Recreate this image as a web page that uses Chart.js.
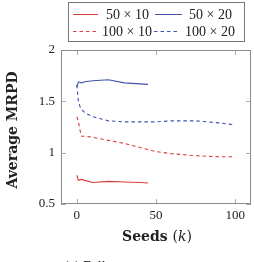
<!DOCTYPE html>
<html><head><meta charset="utf-8">
<script src="https://cdn.jsdelivr.net/npm/chart.js@4"></script>
<style>html,body{margin:0;padding:0;background:#fff;overflow:hidden}#c{display:block}</style>
</head><body>
<canvas id="c" width="254" height="262"></canvas>
<script>
const seeds50 = [0, 1, 3, 5, 10, 20, 30, 40, 45];
const mrpd50x10 = [0.78, 0.73, 0.74, 0.73, 0.71, 0.72, 0.715, 0.71, 0.705];
const mrpd50x20 = [1.64, 1.69, 1.68, 1.69, 1.70, 1.71, 1.68, 1.67, 1.665];
const seeds100 = [0, 1, 2, 3, 5, 10, 20, 30, 40, 50, 60, 75, 90, 100];
const mrpd100x10 = [1.35, 1.30, 1.22, 1.16, 1.16, 1.15, 1.12, 1.09, 1.05, 1.01, 0.99, 0.97, 0.96, 0.96];
const mrpd100x20 = [1.66, 1.50, 1.45, 1.42, 1.39, 1.35, 1.31, 1.30, 1.30, 1.30, 1.31, 1.31, 1.29, 1.27];
const xTicks = [0, 50, 100];
const yTicks = [0.5, 1, 1.5, 2];
const seriesLabels = ['50 × 10', '50 × 20', '100 × 10', '100 × 20'];
const xTitle = 'Seeds';
const xTitleVar = 'k';
const yTitle = 'Average MRPD';
const caption = '(a) Full';

const RED = 'rgb(218,62,58)';
const BLUE = 'rgb(62,84,170)';
const GRAY = '#8a8a8a';

const pts = (xs, ys) => xs.map((x, i) => ({x, y: ys[i]}));

const decor = {
  id: 'decor',
  afterDraw(chart) {
    const ctx = chart.ctx, a = chart.chartArea;
    const xs = chart.scales.x, ys = chart.scales.y;
    ctx.save();
    ctx.strokeStyle = '#aaa'; ctx.lineWidth = 1;
    ctx.beginPath();
    xTicks.forEach(v => {
      const p = Math.round(xs.getPixelForValue(v)) + 0.5;
      ctx.moveTo(p, a.bottom); ctx.lineTo(p, a.bottom - 5);
      ctx.moveTo(p, a.top); ctx.lineTo(p, a.top + 5);
    });
    yTicks.forEach(v => {
      const p = Math.round(ys.getPixelForValue(v)) + 0.5;
      ctx.moveTo(a.left, p); ctx.lineTo(a.left + 5, p);
      ctx.moveTo(a.right, p); ctx.lineTo(a.right - 5, p);
    });
    ctx.stroke();
    ctx.strokeStyle = GRAY; ctx.lineWidth = 1;
    ctx.strokeRect(Math.round(a.left) + 0.5, Math.round(a.top) + 0.5,
      Math.round(a.right - a.left) - 1, Math.round(a.bottom - a.top) - 1);
    ctx.strokeStyle = '#777';
    ctx.strokeRect(68.5, 2.5, 176, 39);
    const ents = [
      {x0: 73, x1: 98, tx: 106, y: 14, ds: 0},
      {x0: 155, x1: 182, tx: 189, y: 14, ds: 1},
      {x0: 73, x1: 97, tx: 102, y: 31, ds: 2},
      {x0: 154, x1: 180, tx: 185, y: 31, ds: 3}
    ];
    ctx.font = '14px "Liberation Serif"';
    ctx.textBaseline = 'middle'; ctx.textAlign = 'left';
    ents.forEach(e => {
      const d = chart.data.datasets[e.ds];
      ctx.strokeStyle = d.borderColor; ctx.lineWidth = 1;
      ctx.setLineDash(d.borderDash || []);
      ctx.beginPath(); ctx.moveTo(e.x0, e.y + 0.5); ctx.lineTo(e.x1, e.y + 0.5); ctx.stroke();
      ctx.setLineDash([]);
      ctx.fillStyle = '#222';
      ctx.fillText(d.label, e.tx, e.y + 1);
    });
    ctx.fillStyle = '#222';
    ctx.save();
    ctx.translate(13, 130);
    ctx.rotate(-Math.PI / 2);
    ctx.font = 'bold 14px "DejaVu Serif"';
    ctx.textAlign = 'center'; ctx.textBaseline = 'middle';
    ctx.fillText(yTitle, 0, 0);
    ctx.restore();
    ctx.textBaseline = 'middle'; ctx.textAlign = 'left';
    const fb = 'bold 14px "DejaVu Serif"', fi = 'italic 14px "DejaVu Serif"', fn = '14px "DejaVu Serif"';
    const parts = [[xTitle + ' ', fb], ['(', fn], [xTitleVar, fi], [')', fn]];
    let tw = 0;
    parts.forEach(p => { ctx.font = p[1]; tw += ctx.measureText(p[0]).width; });
    let cx = 157 - tw / 2;
    parts.forEach(p => { ctx.font = p[1]; ctx.fillText(p[0], cx, 237); cx += ctx.measureText(p[0]).width; });
    ctx.font = '14px "Liberation Serif"';
    ctx.textBaseline = 'top';
    ctx.fillText(caption, 64, 260);
    ctx.restore();
  }
};

new Chart(document.getElementById('c'), {
  type: 'line',
  data: {
    datasets: [
      {label: seriesLabels[0], data: pts(seeds50, mrpd50x10), borderColor: RED},
      {label: seriesLabels[1], data: pts(seeds50, mrpd50x20), borderColor: BLUE},
      {label: seriesLabels[2], data: pts(seeds100, mrpd100x10), borderColor: RED, borderDash: [3.5, 3]},
      {label: seriesLabels[3], data: pts(seeds100, mrpd100x20), borderColor: BLUE, borderDash: [3.5, 3]}
    ]
  },
  options: {
    responsive: false, animation: false, devicePixelRatio: 1,
    layout: {padding: {left: 0, right: 3, top: 50, bottom: 0}},
    elements: {point: {radius: 0}, line: {borderWidth: 1.1, tension: 0, fill: false}},
    plugins: {legend: {display: false}, tooltip: {enabled: false}},
    scales: {
      x: {
        type: 'linear', min: -10, max: 110,
        afterBuildTicks: s => { s.ticks = xTicks.map(v => ({value: v})); },
        afterFit: s => { s.height = 58; },
        grid: {display: false, drawTicks: false}, border: {display: false},
        ticks: {padding: 4, color: '#222', font: {family: '"Liberation Serif"', size: 13}, maxRotation: 0,
          callback: v => String(v)}
      },
      y: {
        type: 'linear', min: 0.5, max: 2,
        afterBuildTicks: s => { s.ticks = yTicks.map(v => ({value: v})); },
        afterFit: s => { s.width = 61; },
        grid: {display: false, drawTicks: false}, border: {display: false},
        ticks: {padding: 6, color: '#222', font: {family: '"Liberation Serif"', size: 13},
          callback: v => String(v)}
      }
    }
  },
  plugins: [decor]
});
</script>
</body></html>
